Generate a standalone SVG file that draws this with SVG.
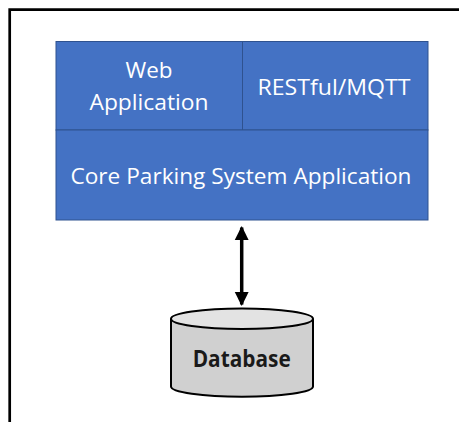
<svg xmlns="http://www.w3.org/2000/svg" width="459" height="422" viewBox="0 0 459 422">
<style>
.box{fill:#4472C4;stroke:#2F528F;stroke-width:1}
.lbl{font-family:"Open Sans","Liberation Sans",sans-serif;font-size:22.5px;fill:#FFFFFF;text-anchor:middle}
.db{font-family:"Open Sans","Liberation Sans",sans-serif;font-size:23px;font-weight:bold;fill:#1A1A1A;text-anchor:middle}
.cyl{stroke:#000000;stroke-width:2}
</style>
<defs>
<marker id="ah" viewBox="0 0 10 10" refX="9" refY="5" markerWidth="4" markerHeight="4.2" orient="auto-start-reverse" markerUnits="strokeWidth">
<path d="M0,0 L10,5 L0,10 z" fill="#000000"/>
</marker>
</defs>
<rect width="459" height="422" fill="#FFFFFF"/>
<path d="M9.7,422 V9.7 H459" fill="none" stroke="#000000" stroke-width="2.7"/>
<g id="web-application">
<rect class="box" x="56" y="41.5" width="186.5" height="88.5"/>
<text class="lbl" x="149" y="78" textLength="47" lengthAdjust="spacingAndGlyphs">Web</text>
<text class="lbl" x="149" y="109.5" textLength="119" lengthAdjust="spacingAndGlyphs">Application</text>
</g>
<g id="restful-mqtt">
<rect class="box" x="242.5" y="41.5" width="185.5" height="88.5"/>
<text class="lbl" x="334" y="95" textLength="153" lengthAdjust="spacingAndGlyphs">RESTful/MQTT</text>
</g>
<g id="core-parking">
<rect class="box" x="56" y="130" width="372" height="90"/>
<text class="lbl" x="241" y="184" textLength="341" lengthAdjust="spacingAndGlyphs">Core Parking System Application</text>
</g>
<g id="connectors">
<line x1="241.7" y1="227.5" x2="241.7" y2="304.5" stroke="#000000" stroke-width="3.5" marker-start="url(#ah)" marker-end="url(#ah)"/>
</g>
<g id="database">
<path class="cyl" d="M171,318.7 V386.5 A71,10.3 0 0 0 313,386.5 V318.7" fill="#D0D0D0"/>
<ellipse class="cyl" cx="242" cy="318.7" rx="71" ry="10.3" fill="#E3E3E3"/>
<text class="db" x="241.7" y="367" textLength="98" lengthAdjust="spacingAndGlyphs">Database</text>
</g>
</svg>
